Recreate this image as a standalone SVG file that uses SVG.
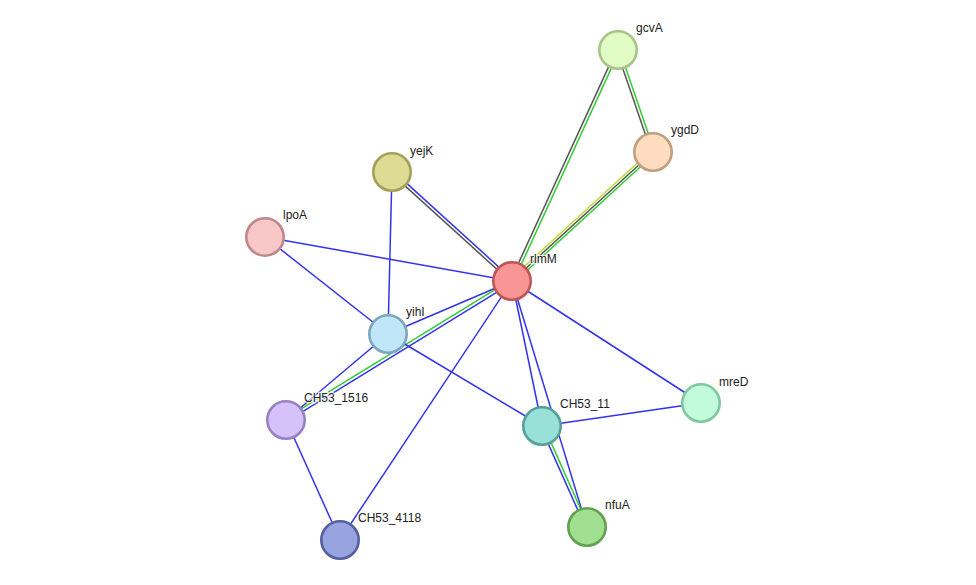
<svg xmlns="http://www.w3.org/2000/svg" width="976" height="585" viewBox="0 0 976 585">
<style>
.e{stroke-width:1.5;fill:none}
.b{stroke:#3333ee}
.g{stroke:#33cc33}
.k{stroke:#555555}
.y{stroke:#bbdd33}
.n circle{stroke-width:2.6}
.n text{font-family:"Liberation Sans",Arial,sans-serif;font-size:12px;fill:#222;stroke:#fff;stroke-width:2.5;stroke-opacity:0.8;paint-order:stroke}
</style>
<rect width="976" height="585" fill="#fff"/>
<g id="edges">
<line class="e k" x1="616.6" y1="49.4" x2="510.6" y2="280.4"/>
<line class="e g" x1="619.4" y1="50.6" x2="513.4" y2="281.6"/>
<line class="e k" x1="616.6" y1="50.5" x2="651.6" y2="152.5"/>
<line class="e g" x1="619.4" y1="49.5" x2="654.4" y2="151.5"/>
<line class="e y" x1="651.3" y1="150.2" x2="510.3" y2="279.2"/>
<line class="e k" x1="653" y1="152" x2="512" y2="281"/>
<line class="e g" x1="654.7" y1="153.8" x2="513.7" y2="282.8"/>
<line class="e b" x1="393" y1="170.9" x2="513" y2="279.9"/>
<line class="e k" x1="391" y1="173.1" x2="511" y2="282.1"/>
<line class="e b" x1="392" y1="172" x2="388" y2="334"/>
<line class="e b" x1="265" y1="237" x2="512" y2="281"/>
<line class="e b" x1="265" y1="237" x2="388" y2="334"/>
<line class="e b" x1="512" y1="281" x2="388" y2="334"/>
<line class="e g" x1="511.2" y1="279.7" x2="285.2" y2="418.7"/>
<line class="e b" x1="512.8" y1="282.3" x2="286.8" y2="421.3"/>
<line class="e b" x1="388" y1="334" x2="286" y2="420"/>
<line class="e b" x1="388" y1="334" x2="542" y2="426"/>
<line class="e b" x1="512" y1="281" x2="340" y2="540"/>
<line class="e b" x1="512" y1="281" x2="542" y2="426"/>
<line class="e b" x1="512" y1="281" x2="587" y2="527"/>
<line class="e b" x1="512" y1="281" x2="701" y2="403"/>
<line class="e b" x1="542" y1="426" x2="701" y2="403"/>
<line class="e b" x1="540.6" y1="426.6" x2="585.6" y2="527.6"/>
<line class="e g" x1="543.4" y1="425.4" x2="588.4" y2="526.4"/>
<line class="e b" x1="286" y1="420" x2="340" y2="540"/>
</g>
<g id="gcvA" class="n"><circle cx="618" cy="50" r="18.7" fill="#e0fcc4" stroke="#a8c48a"/><text x="636" y="32">gcvA</text></g>
<g id="ygdD" class="n"><circle cx="653" cy="152" r="18.7" fill="#fddcbf" stroke="#c0a080"/><text x="671" y="134">ygdD</text></g>
<g id="yejK" class="n"><circle cx="392" cy="172" r="18.7" fill="#dedc94" stroke="#a4a056"/><text x="410" y="155">yejK</text></g>
<g id="lpoA" class="n"><circle cx="265" cy="237" r="18.7" fill="#f8c8c8" stroke="#c08888"/><text x="283" y="219">lpoA</text></g>
<g id="rlmM" class="n"><circle cx="512" cy="281" r="18.7" fill="#f99595" stroke="#c05555"/><text x="530" y="263">rlmM</text></g>
<g id="yihI" class="n"><circle cx="388" cy="334" r="18.7" fill="#c0e6fa" stroke="#7ea6bc"/><text x="406" y="316">yihI</text></g>
<g id="CH53_1516" class="n"><circle cx="286" cy="420" r="18.7" fill="#d6c2fa" stroke="#9682c0"/><text x="304" y="402">CH53_1516</text></g>
<g id="CH53_11" class="n"><circle cx="542" cy="426" r="18.7" fill="#98e0d8" stroke="#56a098"/><text x="560" y="408">CH53_11</text></g>
<g id="mreD" class="n"><circle cx="701" cy="403" r="18.7" fill="#c2fadc" stroke="#80c8a0"/><text x="719" y="386">mreD</text></g>
<g id="nfuA" class="n"><circle cx="587" cy="527" r="18.7" fill="#a0e090" stroke="#60a050"/><text x="605" y="509">nfuA</text></g>
<g id="CH53_4118" class="n"><circle cx="340" cy="540" r="18.7" fill="#98a4e0" stroke="#5460a0"/><text x="358" y="522">CH53_4118</text></g>
</svg>
